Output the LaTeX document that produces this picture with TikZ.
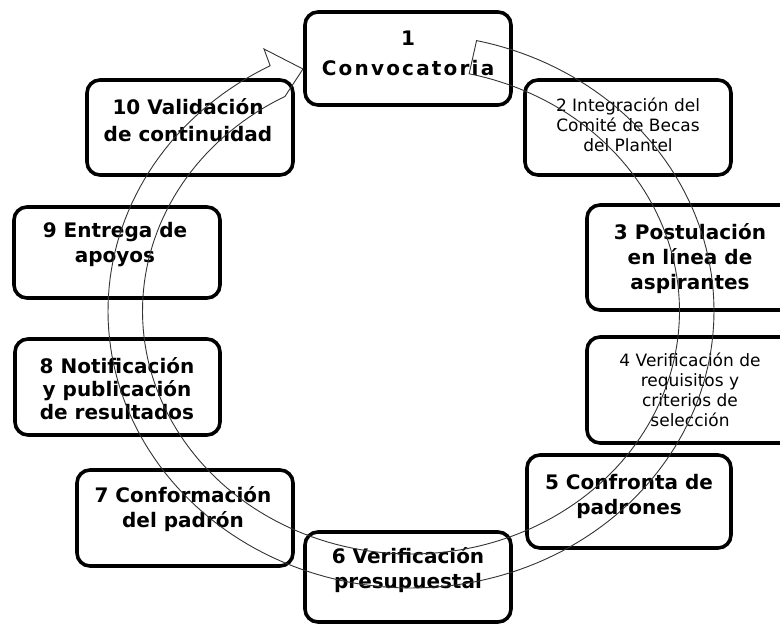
\documentclass[tikz,border=0pt]{standalone}
\usepackage{fontspec}
\setmainfont{DejaVu Sans}
\newfontfamily\widebold[LetterSpace=11]{DejaVu Sans}
\begin{document}
\begin{tikzpicture}[x=1pt,y=-1pt,
  box/.style={draw=black, line width=3.6pt, rounded corners=13pt, inner sep=0pt, outer sep=0pt},
  bold/.style={font=\fontsize{20}{25}\selectfont\bfseries, align=center, inner sep=0pt, text=black},
  reg/.style={font=\fontsize{17}{20}\selectfont, align=center, inner sep=0pt, text=black},
  ring/.style={draw=black!80, line width=0.9pt, line join=miter}]
\useasboundingbox (0,0) rectangle (780,626);

% boxes
\node[box, minimum width=206pt, minimum height=93pt]  (b1)  at (408,58.5)  {};
\node[box, minimum width=206pt, minimum height=95pt]  (b2)  at (628,127.5) {};
\node[box, minimum width=206pt, minimum height=105pt] (b3)  at (690,257.5) {};
\node[box, minimum width=206pt, minimum height=106pt] (b4)  at (690,390)   {};
\node[box, minimum width=204pt, minimum height=93pt]  (b5)  at (629,501.5) {};
\node[box, minimum width=206pt, minimum height=90pt]  (b6)  at (408,577)   {};
\node[box, minimum width=216pt, minimum height=96pt]  (b7)  at (185,518)   {};
\node[box, minimum width=205pt, minimum height=96pt]  (b8)  at (117.5,387) {};
\node[box, minimum width=206pt, minimum height=91pt]  (b9)  at (117,252.5) {};
\node[box, minimum width=206pt, minimum height=95pt]  (b10) at (190,127.5) {};

% texts
\node[bold, font=\fontsize{20}{30}\selectfont\bfseries] (t1) at (408,53) {1\\{\widebold\bfseries Convocatoria}};
\node[reg]  (t2)  at (628,125) {2 Integración del\\Comité de Becas\\del Plantel};
\node[bold] (t3)  at (690,259) {3 Postulación\\en línea de\\aspirantes};
\node[reg]  (t4)  at (690,390) {4 Verificación de\\requisitos y\\criterios de\\selección};
\node[bold] (t5)  at (629,496) {5 Confronta de\\padrones};
\node[bold] (t6)  at (408,570) {6 Verificación\\presupuestal};
\node[bold] (t7)  at (183,509) {7 Conformación\\del padrón};
\node[bold, font=\fontsize{20}{23}\selectfont\bfseries] (t8) at (117,389) {8 Notificación\\y publicación\\de resultados};
\node[bold] (t9)  at (115,245) {9 Entrega de\\apoyos};
\node[bold, font=\fontsize{20}{27}\selectfont\bfseries] (t10) at (188,120) {10 Validación\\de continuidad};

% circular block arrow
\coordinate (barb) at (264,49);
\coordinate (tip) at (303,69);
\draw[ring]
  plot[domain=77.5:-242.3, samples=180] ({411+303*cos(\x)},{311-277*sin(\x)})
  -- (barb) -- (tip)
  -- plot[domain=-242.0:77.5, samples=180] ({411+268.5*cos(\x)},{311-243*sin(\x)})
  -- cycle;
\end{tikzpicture}
\end{document}
